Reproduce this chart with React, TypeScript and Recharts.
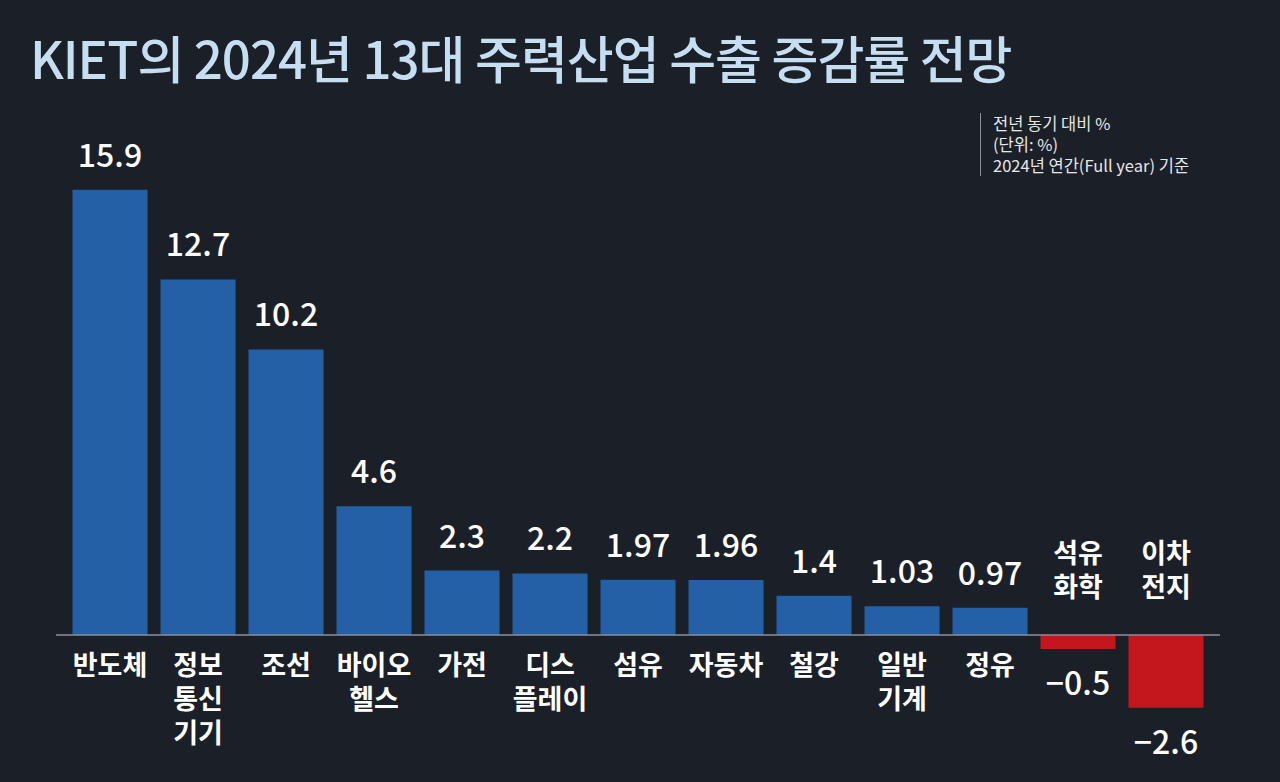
import { BarChart, Bar, XAxis, YAxis, Cell, LabelList, ReferenceLine } from "recharts";

// 2024 export growth outlook (KIET), yoy %
const industries = [
  "반도체", "정보\n통신\n기기", "조선", "바이오\n헬스", "가전", "디스\n플레이",
  "섬유", "자동차", "철강", "일반\n기계", "정유", "석유\n화학", "이차\n전지",
];
const growth = [15.9, 12.7, 10.2, 4.6, 2.3, 2.2, 1.97, 1.96, 1.4, 1.03, 0.97, -0.5, -2.6];
const valueText = ["15.9", "12.7", "10.2", "4.6", "2.3", "2.2", "1.97", "1.96", "1.4", "1.03", "0.97", "−0.5", "−2.6"];

const data = industries.map((name, i) => ({ name, value: growth[i], label: valueText[i] }));

const BG = "#1b1f28";
const BLUE = "#2360a6";
const RED = "#c3161d";
const FONT = "'Noto Sans CJK KR', 'Noto Sans', sans-serif";

function ValueLabel(props: any) {
  const { x, y, width, height, index } = props;
  const v = growth[index];
  const top = Math.min(y, y + height);
  const bottom = Math.max(y, y + height);
  const cx = x + width / 2;
  const ty = v >= 0 ? top - 23 : bottom + 46;
  return (
    <text x={cx} y={ty} textAnchor="middle" fill="#ffffff" fontSize={32} fontWeight={500} fontFamily={FONT}>
      {valueText[index]}
    </text>
  );
}

function CategoryLabel(props: any) {
  const { x, y, width, height, index } = props;
  const v = growth[index];
  const top = Math.min(y, y + height);
  const bottom = Math.max(y, y + height);
  const cx = x + width / 2;
  const lines = industries[index].split("\n");
  const lh = 34;
  let first: number;
  if (v >= 0) {
    first = bottom + 40;
  } else {
    first = top - 38 - (lines.length - 1) * lh;
  }
  return (
    <text textAnchor="middle" fill="#ffffff" fontSize={27} fontWeight={700} fontFamily={FONT}>
      {lines.map((l, i) => (
        <tspan key={i} x={cx} y={first + i * lh}>
          {l}
        </tspan>
      ))}
    </text>
  );
}

// axis line runs a bit past the first and last bars
const AxisLine = (p: any) => (
  <line x1={p.x1 - 9.5} y1={p.y1} x2={p.x2 + 10.5} y2={p.y2} stroke="#8a9099" strokeWidth={1.5} />
);

export default function App() {
  return (
    <div style={{ position: "fixed", left: 0, top: 0, width: 1280, height: 782, background: BG, overflow: "hidden", fontFamily: FONT }}>
      <div
        style={{
          position: "absolute",
          left: 30,
          top: 24,
          fontSize: 51,
          fontWeight: 500,
          color: "#c6def2",
          whiteSpace: "nowrap",
          letterSpacing: -1,
          lineHeight: "66px",
        }}
      >
        KIET의 2024년 13대 주력산업 수출 증감률 전망
      </div>
      <div
        style={{
          position: "absolute",
          left: 980,
          top: 113,
          borderLeft: "1px solid #8a9099",
          paddingLeft: 12,
          color: "#e6e6e6",
          fontSize: 16.5,
          lineHeight: "21px",
          whiteSpace: "nowrap",
        }}
      >
        <div>전년 동기 대비 %</div>
        <div>(단위: %)</div>
        <div>2024년 연간(Full year) 기준</div>
      </div>
      <div style={{ position: "absolute", left: 0, top: 0 }}>
        <BarChart
          width={1280}
          height={782}
          data={data}
          margin={{ top: 159, right: 70.5, bottom: 35, left: 65.5 }}
          barSize={75}
        >
          <XAxis dataKey="name" hide />
          <YAxis hide domain={[-4, 17]} />
          <ReferenceLine y={0} shape={AxisLine} ifOverflow="visible" />
          <Bar dataKey="value" isAnimationActive={false}>
            {data.map((d, i) => (
              <Cell key={i} fill={d.value >= 0 ? BLUE : RED} />
            ))}
            <LabelList dataKey="label" content={ValueLabel} />
            <LabelList dataKey="name" content={CategoryLabel} />
          </Bar>
        </BarChart>
      </div>
    </div>
  );
}
